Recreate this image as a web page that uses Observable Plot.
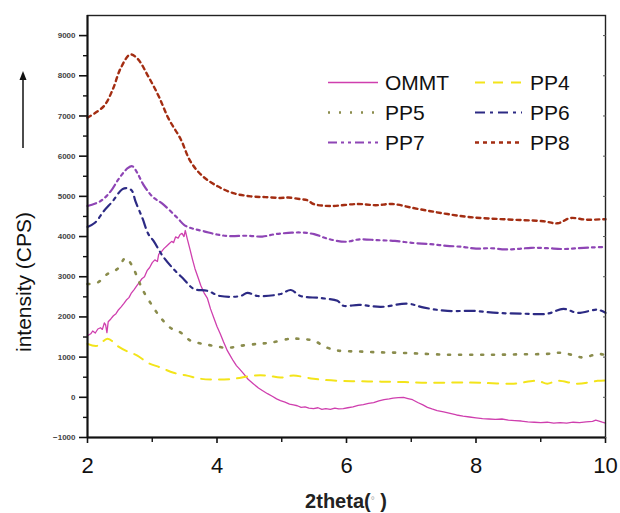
<!DOCTYPE html>
<html>
<head>
<meta charset="utf-8">
<script src="https://cdn.jsdelivr.net/npm/d3@7"></script>
<script src="https://cdn.jsdelivr.net/npm/@observablehq/plot@0.6"></script>
<style>
  html, body { margin: 0; padding: 0; background: #fff; }
  svg { display: block; }
</style>
</head>
<body>
<div id="chart"></div>
<script>
// ---- data ----
const ommtX = [2.00,2.05,2.08,2.12,2.16,2.20,2.23,2.26,2.28,2.30,2.32,2.36,2.40,2.44,2.48,2.52,2.56,2.60,2.64,2.68,2.72,2.76,2.80,2.84,2.88,2.92,2.96,3.00,3.04,3.08,3.10,3.14,3.18,3.22,3.26,3.30,3.33,3.36,3.40,3.43,3.46,3.49,3.51,3.54,3.58,3.62,3.66,3.71,3.75,3.80,3.85,3.90,3.95,4.00,4.05,4.10,4.16,4.20,4.25,4.30,4.35,4.41,4.48,4.56,4.64,4.70,4.78,4.86,4.92,4.98,5.05,5.12,5.18,5.24,5.30,5.36,5.42,5.49,5.56,5.62,5.68,5.75,5.82,5.88,5.95,6.02,6.10,6.18,6.26,6.34,6.42,6.50,6.58,6.66,6.72,6.80,6.88,6.95,7.02,7.10,7.18,7.25,7.32,7.40,7.50,7.60,7.70,7.80,7.90,8.00,8.10,8.20,8.30,8.40,8.50,8.60,8.70,8.80,8.90,9.00,9.10,9.20,9.30,9.40,9.50,9.60,9.70,9.80,9.85,9.90,9.95,10.0];
const ommtY = [1530,1580,1650,1600,1700,1730,1690,1850,1800,1610,1880,1950,2030,2080,2180,2250,2330,2420,2480,2600,2680,2770,2860,2950,3000,3150,3230,3350,3420,3380,3560,3620,3700,3760,3820,3880,3850,3990,3960,4050,4080,4000,4150,3950,3700,3440,3200,2970,2780,2600,2470,2200,1980,1760,1580,1380,1160,1050,910,790,700,590,450,340,230,170,90,20,-40,-80,-120,-170,-190,-210,-250,-240,-270,-280,-260,-300,-280,-300,-270,-290,-280,-260,-240,-200,-180,-150,-130,-90,-60,-40,-20,-10,0,-30,-60,-130,-190,-250,-290,-330,-360,-400,-440,-470,-490,-510,-530,-540,-550,-540,-570,-580,-590,-610,-620,-630,-620,-640,-630,-640,-620,-630,-610,-600,-570,-590,-620,-640];

const pp4X = [2.00,2.15,2.31,2.46,2.59,2.77,2.93,3.13,3.33,3.54,3.75,3.95,4.25,4.56,4.78,4.98,5.18,5.49,5.86,6.20,6.53,6.90,7.30,7.70,8.07,8.58,8.95,9.10,9.26,9.57,9.88,10.0];
const pp4Y = [1330,1280,1460,1280,1160,1040,860,740,610,540,460,440,460,540,540,490,540,460,410,400,390,380,360,370,360,340,410,340,410,340,410,420];

const pp5X = [2.00,2.15,2.31,2.46,2.59,2.69,2.79,2.86,3.00,3.13,3.28,3.44,3.59,3.78,3.95,4.16,4.36,4.63,4.83,5.14,5.30,5.49,5.71,5.88,6.20,6.50,6.79,7.10,7.56,8.00,8.33,8.70,9.10,9.30,9.50,9.66,9.88,10.0];
const pp5Y = [2820,2850,3070,3190,3470,3270,2900,2650,2280,1980,1730,1610,1410,1330,1280,1230,1280,1330,1360,1460,1450,1410,1230,1160,1140,1120,1110,1090,1060,1060,1060,1070,1080,1110,1050,990,1080,1050];

const pp6X = [2.00,2.12,2.25,2.39,2.54,2.63,2.69,2.74,2.85,2.94,3.02,3.16,3.33,3.48,3.64,3.85,4.05,4.36,4.47,4.63,4.98,5.14,5.29,5.60,5.86,5.95,6.20,6.53,6.94,7.20,7.56,7.96,8.33,8.73,9.10,9.35,9.57,9.88,10.0];
const pp6Y = [4240,4350,4630,4880,5180,5200,5130,4880,4450,4060,3890,3520,3190,2950,2700,2650,2520,2520,2600,2520,2570,2670,2520,2470,2400,2280,2300,2250,2330,2230,2150,2150,2100,2080,2080,2200,2100,2180,2100];

const pp7X = [2.00,2.20,2.36,2.48,2.62,2.69,2.77,2.86,3.00,3.17,3.39,3.50,3.62,3.80,4.00,4.20,4.45,4.70,4.90,5.10,5.30,5.50,5.70,5.98,6.20,6.48,6.75,7.03,7.30,7.55,7.81,8.00,8.22,8.45,8.64,8.85,9.10,9.35,9.57,9.80,10.0];
const pp7Y = [4760,4880,5130,5430,5700,5750,5580,5300,5000,4800,4460,4280,4200,4130,4050,4010,4020,4000,4060,4090,4100,4060,3950,3870,3930,3910,3890,3840,3810,3770,3740,3700,3710,3680,3690,3720,3710,3690,3710,3730,3740];

const pp8X = [2.00,2.25,2.39,2.51,2.66,2.77,2.94,3.10,3.25,3.44,3.59,3.78,4.01,4.25,4.52,4.75,4.98,5.10,5.29,5.40,5.49,5.75,6.17,6.45,6.71,7.03,7.30,7.56,7.92,8.43,9.04,9.26,9.46,9.70,9.97,10.0];
const pp8Y = [6960,7240,7660,8180,8530,8430,7980,7490,6940,6420,5870,5500,5250,5080,5000,4980,4960,4970,4930,4900,4810,4760,4810,4780,4810,4710,4630,4560,4480,4430,4380,4330,4460,4420,4430,4430];

const seriesNames = ["OMMT","PP4","PP5","PP6","PP7","PP8"];
const seriesColors = ["#cf3fae","#f3e41a","#8a8c4c","#2c2a84","#8e45b5","#a32d12"];
const seriesDash = [null,"10,8","2,9","10,5,3,5","9,4,3,4,3,4","4,4"];
const seriesWidth = [1.3,2.0,2.6,2.2,2.2,2.4];
const xTicks = [2,4,6,8,10];
const xMinor = [3,5,7,9];
const yTicks = [-1000,0,1000,2000,3000,4000,5000,6000,7000,8000,9000];
const yMinor = [-500,500,1500,2500,3500,4500,5500,6500,7500,8500];

const seriesX = [ommtX,pp4X,pp5X,pp6X,pp7X,pp8X];
const seriesY = [ommtY,pp4Y,pp5Y,pp6Y,pp7Y,pp8Y];

const lineMarks = seriesNames.map((name, i) => {
  const pts = seriesX[i].map((x, j) => ({x, y: seriesY[i][j]}));
  return Plot.line(pts, {
    x: "x", y: "y",
    stroke: seriesColors[i],
    strokeWidth: seriesWidth[i],
    strokeDasharray: seriesDash[i] || undefined,
    curve: i === 0 ? "linear" : "catmull-rom"
  });
});

const FONT = "'Liberation Sans', Arial, Helvetica, sans-serif";

const chart = Plot.plot({
  width: 620,
  height: 513,
  marginLeft: 87,
  marginRight: 15,
  marginTop: 15,
  marginBottom: 76,
  style: {fontFamily: FONT, background: "#fff", color: "#111"},
  x: {domain: [2, 10]},
  y: {domain: [-1000, 9500]},
  marks: [
    ...lineMarks,
    Plot.frame({stroke: "#222", strokeWidth: 1.4}),
    Plot.axisX({ticks: xTicks, tickSize: 6, tickPadding: 14, fontSize: 22, label: null, stroke: "#111", strokeWidth: 1.6, fill: "#111"}),
    Plot.axisX({ticks: xMinor, tickSize: 5, text: null, label: null, stroke: "#111", strokeWidth: 1.4}),
    Plot.axisY({ticks: yTicks, tickSize: 8, tickPadding: 4, fontSize: 8, label: null, tickFormat: d3.format("d"), stroke: "#111", strokeWidth: 1.6, fill: "#444", fontWeight: "bold"}),
    Plot.axisY({ticks: yMinor, tickSize: 4, text: null, label: null, stroke: "#111", strokeWidth: 1.4}),
    Plot.axisY({anchor: "right", ticks: yTicks, tickSize: -3, text: null, label: null, stroke: "#555", strokeWidth: 1}),
    Plot.ruleX([2], {stroke: "#111", strokeWidth: 2}),
    Plot.ruleY([-1000], {stroke: "#111", strokeWidth: 2})
  ]
});

document.getElementById("chart").appendChild(chart);

// ---- decorations: axis titles, arrow, legend ----
const svg = d3.select(chart);

// x title
const xt = svg.append("text")
  .attr("x", 346).attr("y", 508)
  .attr("text-anchor", "middle")
  .style("font-family", "Arial, 'Liberation Sans', sans-serif")
  .style("font-size", "20px").style("font-weight", "bold").attr("fill", "#222");
xt.append("tspan").text("2theta(");
xt.append("tspan").text("°").style("font-size", "10px").style("font-weight", "normal").attr("fill", "#aaa").attr("dy", -4);
xt.append("tspan").text(" )").attr("dy", 4);

// y title
svg.append("text")
  .attr("transform", "translate(31,282) rotate(-90)")
  .attr("text-anchor", "middle")
  .style("font-family", FONT)
  .style("font-size", "21px").attr("fill", "#111")
  .text("intensity (CPS)");

// arrow
svg.append("line").attr("x1", 23).attr("x2", 23).attr("y1", 148).attr("y2", 78)
  .attr("stroke", "#111").attr("stroke-width", 1.5);
svg.append("path").attr("d", "M23,71 L19.5,80 L26.5,80 Z").attr("fill", "#111");

// legend
const legRows = [82.5, 112.5, 142.5];
const legCols = [{x1: 328, x2: 378, tx: 385}, {x1: 475, x2: 522, tx: 530}];
const legOrder = [0, 1, 2, 3, 4, 5];
legOrder.forEach((si, k) => {
  const r = Math.floor(k / 2), c = k % 2;
  const col = legCols[c], y = legRows[r];
  svg.append("line")
    .attr("x1", col.x1).attr("x2", col.x2).attr("y1", y).attr("y2", y)
    .attr("stroke", seriesColors[si])
    .attr("stroke-width", seriesWidth[si])
    .attr("stroke-dasharray", seriesDash[si]);
  svg.append("text")
    .attr("x", col.tx).attr("y", y + 7.5)
    .attr("text-anchor", "start")
    .style("font-family", FONT).style("font-size", "21px").attr("fill", "#111")
    .text(seriesNames[si]);
});
</script>
</body>
</html>
